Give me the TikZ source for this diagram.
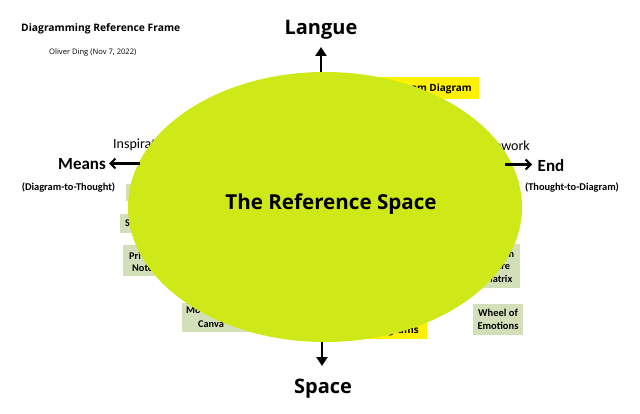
\documentclass[tikz,border=0pt]{standalone}
\usepackage{fontspec}
\setmainfont{Open Sans}
\newfontfamily\calf{Carlito}
\usetikzlibrary{shapes.geometric,arrows.meta}
\definecolor{ellcol}{RGB}{207,232,23}
\definecolor{boxg}{RGB}{211,223,185}
\definecolor{boxy}{RGB}{255,242,0}
\tikzset{
  gbox/.style={fill=boxg, inner sep=0pt, align=center, font=\calf\bfseries\fontsize{10.3}{12.5}\selectfont},
  ybox/.style={fill=boxy, inner sep=0pt},
  frag/.style={inner sep=0pt, anchor=base west, font=\calf\bfseries\fontsize{10.3}{12}\selectfont},
  yfrag/.style={inner sep=0pt, anchor=base east, font=\bfseries\fontsize{10}{12}\selectfont},
  big/.style={inner sep=0pt, anchor=base, font=\bfseries\fontsize{20}{24}\selectfont},
  side/.style={inner sep=0pt, anchor=base, font=\calf\bfseries\fontsize{17}{20}\selectfont},
  sub/.style={inner sep=0pt, anchor=base, font=\calf\bfseries\fontsize{10.4}{12}\selectfont},
  hint/.style={inner sep=0pt, font=\calf\fontsize{14}{16}\selectfont},
  varr/.style={line width=2.4pt, -{Triangle[length=9pt,width=11pt]}},
  harr/.style={line width=2.2pt, -{Straight Barb[length=5pt,width=10pt,line width=2pt]}}
}
\begin{document}
\begin{tikzpicture}[x=1pt,y=-1pt]
\useasboundingbox[fill=white] (0,0) rectangle (640,414);
% title
\node[inner sep=0pt, anchor=base west, font=\bfseries\fontsize{10.3}{12}\selectfont] (title) at (21,32) {Diagramming Reference Frame};
\node[inner sep=0pt, anchor=base west, font=\fontsize{7.6}{9}\selectfont] (author) at (49,55) {Oliver Ding (Nov 7, 2022)};
% side hint texts (partly under the ellipse)
\node[hint, anchor=base west] (insp) at (113,149) {Inspiration};
\node[hint, anchor=base east] (frame) at (530,151) {Framework};
% boxes under the ellipse
\node[gbox, minimum width=44pt, minimum height=17pt] (l1) at (148,192.5) {};
\node[gbox, minimum width=50pt, minimum height=19pt] (l2) at (145,223.5) {};
\node[frag] (l2t) at (125,227) {S};
\node[gbox, minimum width=47pt, minimum height=31pt] (l3) at (146.5,260.5) {};
\node[frag] (l3a) at (129,259) {Pri};
\node[frag] (l3b) at (132,271) {Note};
\node[gbox, minimum width=78pt, minimum height=29pt] (l4) at (221,317.5) {};
\node[frag] (l4a) at (186,313) {Mo};
\node[frag] (l4b) at (198,327) {Canva};
\node[ybox, minimum width=179pt, minimum height=22pt] (y1) at (389.5,88) {};
\node[yfrag] (y1t) at (472,92) {am Diagram};
\node[ybox, minimum width=127pt, minimum height=24pt] (y2) at (363.5,327) {};
\node[yfrag] (y2t) at (419,333) {Diagrams};
\node[gbox, minimum width=44pt, minimum height=44pt] (r1) at (498,266) {Growth\\Share\\Matrix};
\node[gbox, minimum width=50pt, minimum height=31pt, font=\calf\bfseries\fontsize{10.5}{13}\selectfont] (r2) at (498,319.5) {Wheel of\\Emotions};
% the ellipse
\node[ellipse, fill=ellcol, inner sep=0pt, minimum width=394pt, minimum height=270pt] (E) at (325,207) {};
\node[big, font=\bfseries\fontsize{20.6}{24}\selectfont] (ref) at (331,210) {The Reference Space};
% poles
\node[big] (langue) at (321,35) {Langue};
\node[big] (space) at (323,393) {Space};
\node[side] (means) at (82,170) {Means};
\node[side] (endn) at (551,172) {End};
\node[sub] (dtt) at (68.5,191) {(Diagram-to-Thought)};
\node[sub] (ttd) at (572,191) {(Thought-to-Diagram)};
% arrows
\coordinate (lt) at (321,47);
\coordinate (st) at (322,366);
\coordinate (mt) at (109,163.5);
\coordinate (et) at (532,164.5);
\coordinate (ms) at (140,163.5);
\coordinate (es) at (505,164.5);
\draw[varr] (lt |- E.north) -- (lt);
\draw[varr] (st |- E.south) -- (st);
\draw[harr] (ms) -- (mt);
\draw[harr] (es) -- (et);
\end{tikzpicture}
\end{document}
